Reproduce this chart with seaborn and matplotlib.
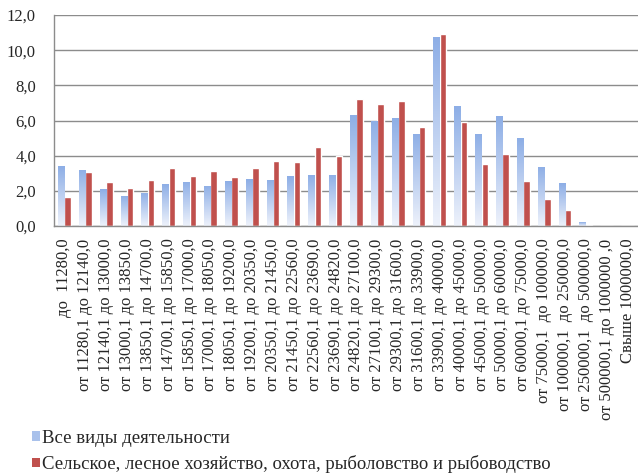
import numpy as np
import pandas as pd
import matplotlib
matplotlib.use("Agg")
import matplotlib.pyplot as plt
import seaborn as sns
from matplotlib.colors import LinearSegmentedColormap
from matplotlib.patches import Patch
from matplotlib.ticker import FuncFormatter, MultipleLocator, FixedLocator

# Интервалы заработной платы
categories = [
    "до  11280,0",
    "от 11280,1 до 12140,0",
    "от 12140,1 до 13000,0",
    "от 13000,1 до 13850,0",
    "от 13850,1 до 14700,0",
    "от 14700,1 до 15850,0",
    "от 15850,1 до 17000,0",
    "от 17000,1 до 18050,0",
    "от 18050,1 до 19200,0",
    "от 19200,1 до 20350,0",
    "от 20350,1 до 21450,0",
    "от 21450,1 до 22560,0",
    "от 22560,1 до 23690,0",
    "от 23690,1 до 24820,0",
    "от 24820,1 до 27100,0",
    "от 27100,1 до 29300,0",
    "от 29300,1 до 31600,0",
    "от 31600,1 до 33900,0",
    "от 33900,1 до 40000,0",
    "от 40000,1 до 45000,0",
    "от 45000,1 до 50000,0",
    "от 50000,1 до 60000,0",
    "от 60000,1 до 75000,0",
    "от 75000,1  до 100000,0",
    "от 100000,1  до 250000,0",
    "от 250000,1  до 500000,0",
    "от 500000,1 до 1000000 ,0",
    "Свыше 1000000,0",
]

all_activities = [3.40, 3.21, 2.09, 1.71, 1.88, 2.37, 2.51, 2.30, 2.54, 2.66,
                  2.64, 2.83, 2.89, 2.92, 6.30, 6.00, 6.15, 5.24, 10.75, 6.82,
                  5.24, 6.23, 4.99, 3.38, 2.43, 0.21, 0.0, 0.0]
agriculture = [1.63, 3.09, 2.51, 2.16, 2.64, 3.28, 2.83, 3.11, 2.81, 3.28,
               3.70, 3.63, 4.50, 3.99, 7.25, 6.93, 7.10, 5.62, 10.92, 5.90,
               3.51, 4.08, 2.58, 1.56, 0.93, 0.08, 0.0, 0.0]

series_names = ["Все виды деятельности",
                "Сельское, лесное хозяйство, охота, рыболовство и рыбоводство"]

df = pd.DataFrame({
    "cat": categories * 2,
    "val": all_activities + agriculture,
    "series": [series_names[0]] * len(categories) + [series_names[1]] * len(categories),
})

blue_top = "#8DAEE6"
red = "#C0504D"
grid_col = "#8C8C8C"

sns.set_style("white")
plt.rcParams["font.family"] = ["Liberation Serif", "DejaVu Serif"]

fig = plt.figure(figsize=(6.38, 4.76), dpi=100)
ax = fig.add_axes([54 / 638, 1 - 226 / 476, 1 - 54 / 638, (226 - 15) / 476])

sns.barplot(data=df, x="cat", y="val", hue="series", palette=[blue_top, red],
            width=0.62, saturation=1, legend=False, ax=ax)

# градиент для синих столбцов
cmap = LinearSegmentedColormap.from_list("bl", ["#EEF2FB", blue_top])
grad = np.linspace(0, 1, 256).reshape(-1, 1)
for p in ax.containers[0]:
    x0, y0 = p.get_x(), p.get_y()
    w, h = p.get_width(), p.get_height()
    if h <= 0:
        continue
    p.set_facecolor("none")
    p.set_edgecolor("none")
    im = ax.imshow(grad, cmap=cmap, origin="lower", aspect="auto",
                   extent=[x0, x0 + w, y0, y0 + h], zorder=2)
    im.set_clip_path(p)

ax.set_xlim(-0.5, len(categories) - 0.5)
ax.set_ylim(0, 12)
ax.yaxis.set_major_locator(MultipleLocator(2))
ax.yaxis.set_major_formatter(FuncFormatter(lambda v, _: f"{v:.1f}".replace(".", ",")))
ax.grid(axis="y", color=grid_col, linewidth=1)
ax.set_axisbelow(True)
ax.set_xlabel("")
ax.set_ylabel("")

ax.set_xticks(range(len(categories)))
ax.set_xticklabels(categories, rotation=90, fontsize=12)
ax.xaxis.set_minor_locator(FixedLocator(np.arange(-0.5, len(categories), 1)))
ax.tick_params(axis="x", which="major", length=0, pad=9)
ax.tick_params(axis="x", which="minor", length=5, color=grid_col, width=1, direction="out")
ax.tick_params(axis="y", labelsize=12, length=5, color=grid_col, pad=8)

for s in ["top", "right"]:
    ax.spines[s].set_visible(False)
for s in ["left", "bottom"]:
    ax.spines[s].set_color(grid_col)
    ax.spines[s].set_linewidth(1)

handles = [Patch(facecolor="#A9C1EB", edgecolor="none"),
           Patch(facecolor=red, edgecolor="none")]
fig.legend(handles, series_names, loc="center left",
           bbox_to_anchor=(32 / 638, 1 - 451.5 / 476),
           frameon=False, fontsize=13.5, handlelength=0.42, handleheight=0.42,
           handletextpad=0.12, labelspacing=0.45, borderpad=0, borderaxespad=0)

fig.savefig("out.png", dpi=100)
